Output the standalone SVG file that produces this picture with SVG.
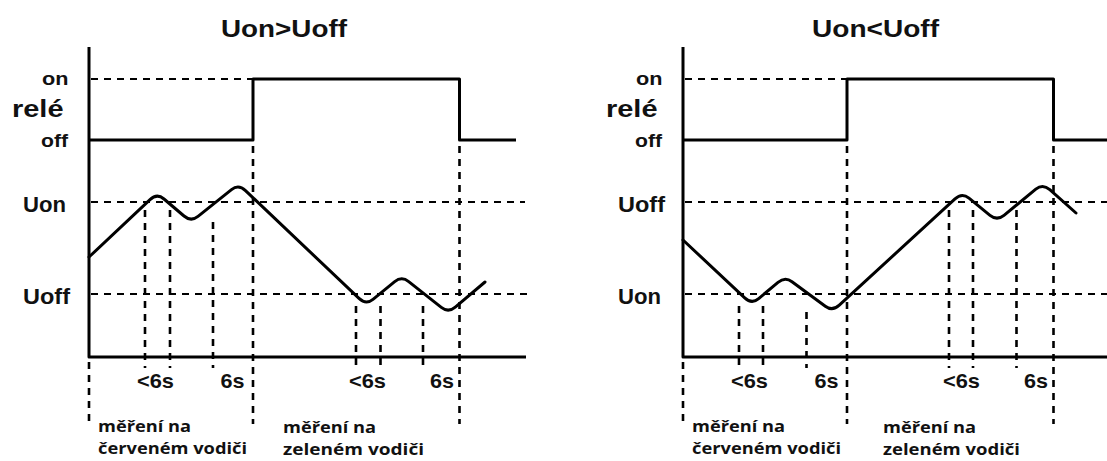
<svg xmlns="http://www.w3.org/2000/svg" width="1107" height="461" viewBox="0 0 1107 461">
<style>
.bg{fill:#fff}
.solid{fill:none;stroke:#000;stroke-width:3;stroke-linejoin:round;stroke-linecap:butt}
.curve{fill:none;stroke:#000;stroke-width:3;stroke-linejoin:round;stroke-linecap:round}
.dash{fill:none;stroke:#000;stroke-width:2.2;stroke-dasharray:7 6}
.vdash{fill:none;stroke:#000;stroke-width:2.6;stroke-dasharray:7 6}
.t{font-family:"Liberation Sans",Arial,sans-serif;font-weight:bold;fill:#111}
.title{font-size:23px}
.lvl{font-size:18px}
.rele{font-size:24px}
.u{font-size:22px}
.sec{font-size:21px}
.note{font-family:"Open Sans","Liberation Sans",sans-serif;font-weight:700;font-size:15.5px;fill:#111}
</style>
<rect class="bg" x="0" y="0" width="1107" height="461"/>

<g id="panel-left">
  <text class="t title" x="221" y="37" textLength="126" lengthAdjust="spacingAndGlyphs">Uon&gt;Uoff</text>
  <g id="left-labels">
    <text class="t lvl" x="42" y="85" textLength="26.5" lengthAdjust="spacingAndGlyphs">on</text>
    <text class="t rele" x="12" y="117" textLength="51.5" lengthAdjust="spacingAndGlyphs">relé</text>
    <text class="t lvl" x="41" y="147" textLength="27" lengthAdjust="spacingAndGlyphs">off</text>
    <text class="t u" x="23" y="212" textLength="43" lengthAdjust="spacingAndGlyphs">Uon</text>
    <text class="t u" x="23" y="304" textLength="47" lengthAdjust="spacingAndGlyphs">Uoff</text>
  </g>
  <g id="left-guides">
    <line class="dash" x1="91" y1="79" x2="253" y2="79"/>
    <line class="dash" x1="91" y1="202" x2="525" y2="202"/>
    <line class="dash" x1="91" y1="294" x2="527" y2="294"/>
    <line class="vdash" x1="253" y1="146" x2="253" y2="424"/>
    <line class="vdash" x1="459.5" y1="146" x2="459.5" y2="424"/>
    <line class="vdash" x1="89" y1="362" x2="89" y2="424"/>
    <line class="vdash" x1="145" y1="210" x2="145" y2="368"/>
    <line class="vdash" x1="170" y1="210" x2="170" y2="368"/>
    <line class="vdash" x1="213" y1="222" x2="213" y2="368"/>
    <line class="vdash" x1="356" y1="306" x2="356" y2="368"/>
    <line class="vdash" x1="380.5" y1="306" x2="380.5" y2="368"/>
    <line class="vdash" x1="423" y1="306" x2="423" y2="368"/>
  </g>
  <g id="left-axes">
    <polyline class="solid" points="89,47 89,357 526,357"/>
  </g>
  <g id="left-relay">
    <polyline class="solid" points="89,140 253,140 253,79 459.5,79 459.5,140 516,140"/>
  </g>
  <g id="left-voltage">
    <path class="curve" d="M89,257 L150,199.6 Q157,193 164,199 L184,216 Q191,222 198,216.4 L231.5,189.6 Q238.5,184 245.5,190.6 L359,298.4 Q366,305 373,299.3 L394.7,281.7 Q401.7,276 408.7,281.6 L441.3,307.4 Q448.3,313 455.3,307.1 L485,282"/>
  </g>
  <g id="left-times">
    <text class="t sec" x="137" y="388" textLength="37" lengthAdjust="spacingAndGlyphs">&lt;6s</text>
    <text class="t sec" x="220.5" y="388" textLength="24" lengthAdjust="spacingAndGlyphs">6s</text>
    <text class="t sec" x="349" y="388" textLength="37" lengthAdjust="spacingAndGlyphs">&lt;6s</text>
    <text class="t sec" x="430" y="388" textLength="24" lengthAdjust="spacingAndGlyphs">6s</text>
  </g>
  <g id="left-notes">
    <text class="note" x="98" y="432" textLength="93" lengthAdjust="spacingAndGlyphs">měření na</text>
    <text class="note" x="98" y="454" textLength="149" lengthAdjust="spacingAndGlyphs">červeném vodiči</text>
    <text class="note" x="283" y="433" textLength="93" lengthAdjust="spacingAndGlyphs">měření na</text>
    <text class="note" x="283" y="455" textLength="141" lengthAdjust="spacingAndGlyphs">zeleném vodiči</text>
  </g>
</g>

<g id="panel-right">
  <text class="t title" x="812" y="37" textLength="127" lengthAdjust="spacingAndGlyphs">Uon&lt;Uoff</text>
  <g id="right-labels">
    <text class="t lvl" x="636" y="85" textLength="26.5" lengthAdjust="spacingAndGlyphs">on</text>
    <text class="t rele" x="606" y="117" textLength="51.5" lengthAdjust="spacingAndGlyphs">relé</text>
    <text class="t lvl" x="635" y="147" textLength="27" lengthAdjust="spacingAndGlyphs">off</text>
    <text class="t u" x="618" y="212" textLength="47" lengthAdjust="spacingAndGlyphs">Uoff</text>
    <text class="t u" x="618" y="304" textLength="43" lengthAdjust="spacingAndGlyphs">Uon</text>
  </g>
  <g id="right-guides">
    <line class="dash" x1="685" y1="79" x2="847" y2="79"/>
    <line class="dash" x1="685" y1="202" x2="1107" y2="202"/>
    <line class="dash" x1="685" y1="294" x2="1107" y2="294"/>
    <line class="vdash" x1="847" y1="146" x2="847" y2="424"/>
    <line class="vdash" x1="1053.5" y1="146" x2="1053.5" y2="424"/>
    <line class="vdash" x1="683" y1="362" x2="683" y2="424"/>
    <line class="vdash" x1="739" y1="306" x2="739" y2="368"/>
    <line class="vdash" x1="763" y1="306" x2="763" y2="368"/>
    <line class="vdash" x1="806.5" y1="312" x2="806.5" y2="368"/>
    <line class="vdash" x1="949" y1="210" x2="949" y2="368"/>
    <line class="vdash" x1="973" y1="210" x2="973" y2="368"/>
    <line class="vdash" x1="1016.5" y1="210" x2="1016.5" y2="368"/>
  </g>
  <g id="right-axes">
    <polyline class="solid" points="683,47 683,357 1107,357"/>
  </g>
  <g id="right-relay">
    <polyline class="solid" points="683,140 847,140 847,79 1053.5,79 1053.5,140 1107,140"/>
  </g>
  <g id="right-voltage">
    <path class="curve" d="M683,240 L744.7,297.9 Q751.7,304.5 758.7,298.6 L778,282.4 Q785,276.5 792,281.7 L825.3,306.3 Q832.3,311.5 839.3,305.1 L955,198.9 Q962,192.5 969,198.2 L990,215.3 Q997,221 1004,215.3 L1035.8,189.2 Q1042.8,183.5 1049.8,189.7 L1076,213"/>
  </g>
  <g id="right-times">
    <text class="t sec" x="731" y="388" textLength="37" lengthAdjust="spacingAndGlyphs">&lt;6s</text>
    <text class="t sec" x="814.5" y="388" textLength="24" lengthAdjust="spacingAndGlyphs">6s</text>
    <text class="t sec" x="943" y="388" textLength="37" lengthAdjust="spacingAndGlyphs">&lt;6s</text>
    <text class="t sec" x="1024" y="388" textLength="24" lengthAdjust="spacingAndGlyphs">6s</text>
  </g>
  <g id="right-notes">
    <text class="note" x="692" y="432" textLength="93" lengthAdjust="spacingAndGlyphs">měření na</text>
    <text class="note" x="692" y="454" textLength="149" lengthAdjust="spacingAndGlyphs">červeném vodiči</text>
    <text class="note" x="883" y="433" textLength="93" lengthAdjust="spacingAndGlyphs">měření na</text>
    <text class="note" x="883" y="455" textLength="137" lengthAdjust="spacingAndGlyphs">zeleném vodiči</text>
  </g>
</g>
</svg>
